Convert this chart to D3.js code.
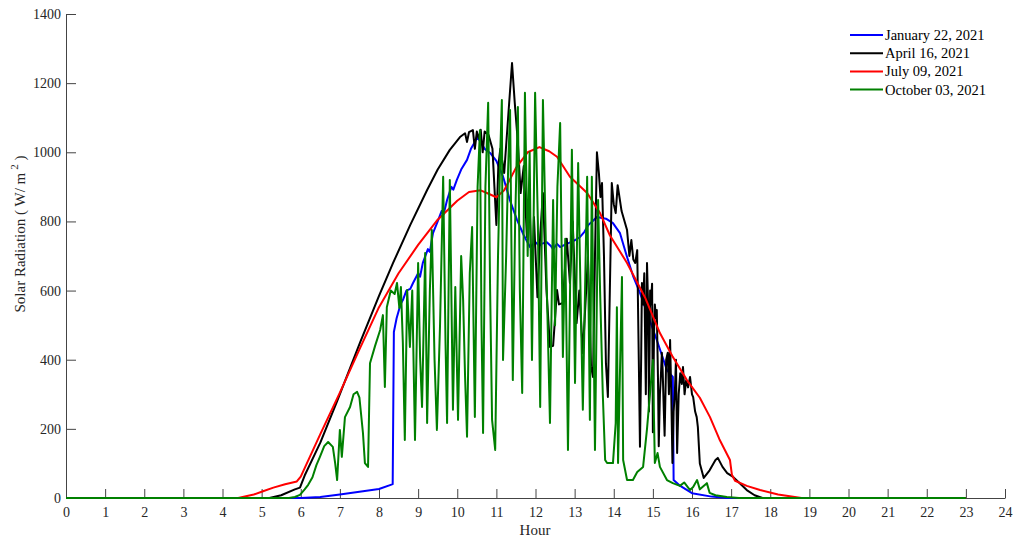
<!DOCTYPE html>
<html><head><meta charset="utf-8">
<script src="https://cdn.jsdelivr.net/npm/d3@7"></script>
<style>body{margin:0;background:#fff;} text{font-family:"Liberation Serif","Times New Roman",serif;}</style>
</head><body><svg id="c" width="1013" height="537"></svg>
<script>
const seriesNames = ["January 22, 2021","April 16, 2021","July 09, 2021","October 03, 2021"];
const seriesColors = ["#0000ff","#000000","#ff0000","#008000"];
const xTicks = d3.range(0,25);
const yTicks = [0,200,400,600,800,1000,1200,1400];

const january = [[0,0],[6.0,0],[6.5,3],[7.0,10],[7.5,18],[8.0,26],[8.3,38],[8.35,40],[8.38,480],[8.45,520],[8.55,560],[8.62,575],[8.7,600],[8.8,605],[8.87,622],[9.0,650],[9.05,640],[9.12,680],[9.25,720],[9.3,712],[9.38,766],[9.5,800],[9.6,830],[9.65,820],[9.74,862],[9.85,900],[9.9,892],[9.99,920],[10.1,950],[10.25,978],[10.35,1010],[10.45,1030],[10.5,1044],[10.6,1030],[10.7,1010],[10.84,998],[11.0,975],[11.17,930],[11.35,860],[11.53,804],[11.7,760],[11.86,726],[12.0,740],[12.1,730],[12.15,735],[12.29,740],[12.4,728],[12.45,720],[12.55,735],[12.63,726],[12.8,735],[13.0,745],[13.14,755],[13.25,770],[13.35,790],[13.45,800],[13.57,813],[13.8,808],[13.98,795],[14.16,766],[14.34,697],[14.5,640],[14.67,593],[14.9,520],[15.1,457],[15.36,370],[15.51,350],[15.53,52],[15.7,35],[16.0,14],[16.5,4],[16.9,0],[23,0]];

const april = [[0,0],[5.2,0],[5.5,8],[5.85,25],[5.98,30],[6.1,65],[6.5,160],[6.93,280],[7.51,448],[8.0,585],[8.36,680],[8.8,790],[9.23,891],[9.5,950],[9.81,1007],[10.07,1044],[10.2,1055],[10.25,1030],[10.3,1058],[10.4,1064],[10.45,1010],[10.5,1060],[10.55,1040],[10.6,1065],[10.65,1000],[10.7,1060],[10.8,1050],[10.9,1010],[10.95,900],[11.0,790],[11.05,960],[11.1,1010],[11.2,940],[11.3,1100],[11.4,1258],[11.47,1143],[11.55,1027],[11.62,882],[11.7,960],[11.78,755],[11.85,850],[11.91,610],[11.96,813],[12.05,581],[12.12,760],[12.19,882],[12.28,602],[12.37,437],[12.45,440],[12.55,602],[12.6,560],[12.7,564],[12.8,750],[12.88,622],[12.95,800],[13.05,506],[13.12,600],[13.21,419],[13.34,697],[13.42,380],[13.47,350],[13.52,700],[13.57,1000],[13.62,940],[13.66,871],[13.7,911],[13.75,700],[13.8,390],[13.85,292],[13.9,600],[13.95,911],[14.0,850],[14.05,824],[14.1,905],[14.2,830],[14.34,775],[14.4,700],[14.45,746],[14.5,690],[14.55,680],[14.6,717],[14.64,400],[14.67,148],[14.7,400],[14.72,622],[14.75,560],[14.78,650],[14.82,300],[14.85,680],[14.88,550],[14.9,250],[14.93,600],[14.95,560],[14.98,620],[15.0,190],[15.03,480],[15.05,560],[15.08,520],[15.1,544],[15.13,350],[15.15,150],[15.18,300],[15.2,341],[15.23,420],[15.25,370],[15.28,250],[15.3,180],[15.34,400],[15.38,420],[15.41,300],[15.44,457],[15.47,300],[15.5,101],[15.53,250],[15.56,300],[15.59,400],[15.62,130],[15.66,300],[15.7,361],[15.74,330],[15.77,379],[15.81,300],[15.85,340],[15.9,320],[15.95,350],[16.0,300],[16.03,292],[16.08,250],[16.12,234],[16.15,205],[16.2,100],[16.3,58],[16.45,80],[16.6,110],[16.66,116],[16.78,90],[16.9,72],[17.05,61],[17.2,45],[17.4,23],[17.6,8],[17.8,0],[23,0]];

const july = [[0,0],[4.4,0],[4.6,5],[4.8,10],[5.0,18],[5.3,30],[5.6,40],[5.9,48],[6.0,62],[6.5,185],[7.0,305],[7.5,430],[8.0,552],[8.5,650],[9.0,732],[9.5,805],[10.0,860],[10.3,885],[10.6,890],[10.8,880],[11.0,870],[11.2,890],[11.5,955],[11.8,1000],[12.1,1015],[12.35,1003],[12.55,987],[12.88,929],[13.32,882],[13.65,824],[13.9,760],[14.34,680],[14.8,580],[15.18,477],[15.5,410],[15.87,341],[16.2,290],[16.46,234],[16.7,170],[16.97,110],[17.02,67],[17.1,50],[17.4,35],[17.74,23],[18.2,10],[18.8,0],[23,0]];

const october = [[0,0],[5.7,0],[5.85,3],[5.98,9],[6.1,25],[6.19,38],[6.3,60],[6.4,95],[6.49,119],[6.6,150],[6.7,162],[6.82,148],[6.88,100],[6.93,52],[7.0,197],[7.05,119],[7.13,234],[7.26,263],[7.35,300],[7.44,307],[7.5,290],[7.59,188],[7.64,101],[7.72,90],[7.77,390],[7.9,440],[8.03,486],[8.1,529],[8.15,321],[8.2,552],[8.3,600],[8.4,590],[8.46,622],[8.52,550],[8.56,610],[8.61,448],[8.66,168],[8.72,602],[8.79,437],[8.85,600],[8.92,168],[9.0,680],[9.05,408],[9.1,263],[9.18,709],[9.23,217],[9.3,600],[9.35,775],[9.42,400],[9.48,197],[9.56,500],[9.64,929],[9.7,450],[9.74,217],[9.81,920],[9.89,255],[9.95,610],[10.02,226],[10.1,700],[10.15,573],[10.2,350],[10.25,177],[10.32,650],[10.38,784],[10.45,234],[10.52,900],[10.58,1064],[10.62,500],[10.66,188],[10.72,900],[10.79,1143],[10.84,600],[10.89,226],[10.97,139],[11.04,688],[11.1,1000],[11.14,1151],[11.17,399],[11.25,700],[11.3,950],[11.35,1122],[11.42,341],[11.48,800],[11.55,1131],[11.6,600],[11.66,304],[11.73,1172],[11.8,700],[11.85,1000],[11.91,399],[11.99,1172],[12.06,800],[12.12,263],[12.19,1151],[12.28,650],[12.37,217],[12.45,862],[12.5,500],[12.56,900],[12.63,1085],[12.7,408],[12.76,750],[12.83,139],[12.93,1007],[13.01,333],[13.09,969],[13.15,600],[13.21,255],[13.32,929],[13.39,226],[13.44,929],[13.52,139],[13.6,862],[13.65,602],[13.72,300],[13.78,110],[13.83,101],[13.98,101],[14.05,217],[14.08,552],[14.11,101],[14.21,639],[14.24,110],[14.34,52],[14.49,52],[14.6,75],[14.75,90],[14.85,200],[15.0,399],[15.05,101],[15.12,130],[15.18,90],[15.36,52],[15.51,43],[15.69,35],[15.8,45],[15.95,23],[16.03,32],[16.13,52],[16.2,25],[16.38,43],[16.45,15],[16.6,8],[16.89,3],[17.2,0],[23,0]];

const seriesData = [january, april, july, october];

const svg = d3.select("#c");
const x = d3.scaleLinear().domain([0,24]).range([66,1005]);
const y = d3.scaleLinear().domain([0,1400]).range([498,14]);
const axisColor = "#444";

const gx = svg.append("g").attr("transform","translate(0,498)")
  .call(d3.axisBottom(x).tickValues(xTicks).tickSizeInner(-9).tickSizeOuter(0).tickPadding(9).tickFormat(d3.format("d")));
const gy = svg.append("g").attr("transform","translate(66,0)")
  .call(d3.axisLeft(y).tickValues(yTicks).tickSizeInner(-10).tickSizeOuter(0).tickPadding(5).tickFormat(d3.format("d")));
[gx,gy].forEach(g=>{
  g.select(".domain").attr("stroke",axisColor).attr("stroke-width",1);
  g.selectAll(".tick line").attr("stroke",axisColor);
  g.selectAll(".tick text").attr("fill","#262626").style("font-size","14px").style("font-family","'Liberation Serif',serif");
});

const line = d3.line().x(d=>x(d[0])).y(d=>y(d[1]));
seriesData.forEach((s,i)=>{
  svg.append("path").datum(s).attr("d",line).attr("fill","none")
    .attr("stroke",seriesColors[i]).attr("stroke-width",2).attr("stroke-linejoin","round");
});

svg.append("text").attr("x",535).attr("y",535).attr("text-anchor","middle")
  .style("font-size","15px").attr("fill","#262626").text("Hour");

const yl = svg.append("text").attr("transform","translate(25,234) rotate(-90)").attr("text-anchor","middle")
  .style("font-size","15px").attr("fill","#262626");
yl.append("tspan").text("Solar Radiation ( W/ m");
yl.append("tspan").attr("dx",3).attr("dy",-7).style("font-size","11px").text("2");
yl.append("tspan").attr("dy",7).text(" )");

const leg = svg.append("g");
seriesNames.forEach((n,i)=>{
  const yy = 35 + i*18.2;
  leg.append("line").attr("x1",850).attr("x2",883).attr("y1",yy).attr("y2",yy)
    .attr("stroke",seriesColors[i]).attr("stroke-width",2);
  leg.append("text").attr("x",885).attr("y",yy+5).style("font-size","14.5px").attr("fill","#000").text(n);
});
</script></body></html>
